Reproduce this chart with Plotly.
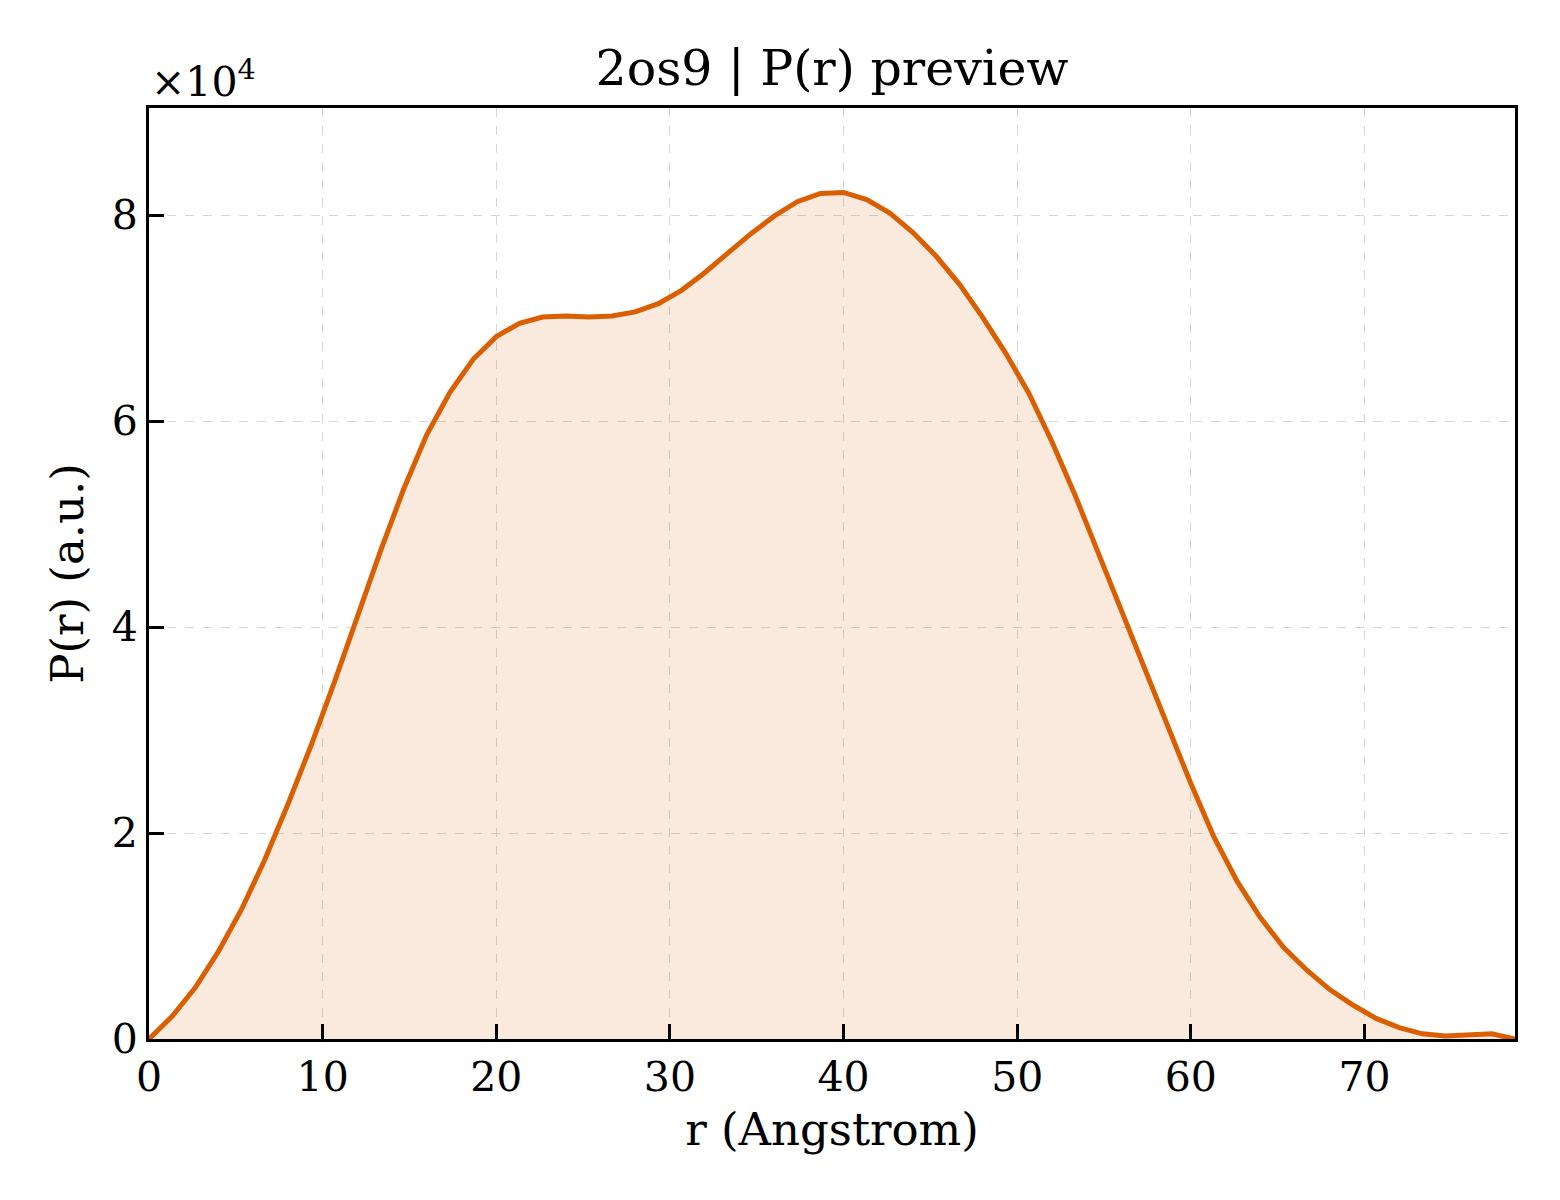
import plotly.graph_objects as go

# P(r) curve (r in Angstrom, P in units of 1e4)
r_step = 4 / 3
p_scaled = [
    0.00, 0.22, 0.50, 0.85, 1.26, 1.74, 2.28, 2.85, 3.46, 4.10,
    4.74, 5.34, 5.87, 6.28, 6.60, 6.82, 6.95, 7.01, 7.02, 7.01,
    7.02, 7.06, 7.14, 7.27, 7.44, 7.63, 7.82, 7.99, 8.13, 8.21,
    8.22, 8.15, 8.02, 7.83, 7.60, 7.33, 7.01, 6.66, 6.27, 5.80,
    5.28, 4.72, 4.16, 3.60, 3.04, 2.48, 1.96, 1.53, 1.18, 0.89,
    0.67, 0.48, 0.33, 0.20, 0.11, 0.05, 0.03, 0.04, 0.05, 0.00,
]
r = [i * r_step for i in range(len(p_scaled))]
p = [v * 1e4 for v in p_scaled]

x_ticks = [0, 10, 20, 30, 40, 50, 60, 70]
y_ticks = [0, 2e4, 4e4, 6e4, 8e4]
y_ticktext = ["0", "2", "4", "6", "8"]

font = "DejaVu Serif"
line_col = "#D95F02"

fig = go.Figure()
fig.add_trace(go.Scatter(
    x=r, y=p, mode="lines",
    line=dict(color=line_col, width=5),
    fill="tozeroy", fillcolor="rgba(217,95,2,0.13)",
    showlegend=False,
))

axis_common = dict(
    showline=True, linecolor="black", linewidth=3, mirror=True,
    ticks="inside", ticklen=15, tickwidth=3, tickcolor="black",
    showgrid=True, gridcolor="#d6d6d6", griddash="dash", gridwidth=1,
    zeroline=False,
    tickfont=dict(family=font, size=41, color="black"),
)

fig.update_xaxes(
    range=[0, r[-1]], tickvals=x_ticks,
    title=dict(text="r (Angstrom)", font=dict(family=font, size=45, color="black"), standoff=14),
    **axis_common,
)
fig.update_yaxes(
    range=[0, 9.04e4], tickvals=y_ticks, ticktext=y_ticktext,
    title=dict(text="P(r) (a.u.)", font=dict(family=font, size=45, color="black"), standoff=14),
    **axis_common,
)

fig.add_annotation(
    text="×10<sup>4</sup>", xref="paper", yref="paper", x=0, y=1.0,
    xanchor="left", yanchor="bottom", showarrow=False,
    font=dict(family=font, size=41, color="black"),
)

fig.update_layout(
    width=1560, height=1200,
    margin=dict(l=141, r=53, t=100, b=169),
    paper_bgcolor="white", plot_bgcolor="white",
    title=dict(text="2os9 | P(r) preview", x=0.5, xref="paper", y=0.95, yanchor="middle",
               font=dict(family=font, size=49, color="black")),
)

fig.write_html("out.html")
